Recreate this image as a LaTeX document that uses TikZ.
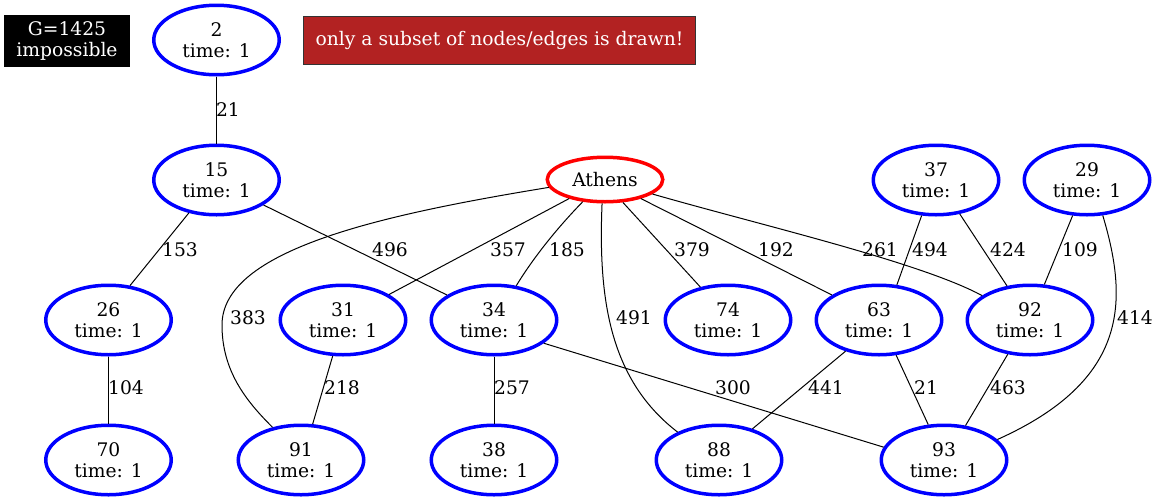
\documentclass[tikz,border=0pt]{standalone}
\usepackage{fontspec}
\setmainfont{DejaVu Serif}
\usetikzlibrary{shapes.geometric}
\definecolor{firebrick}{RGB}{178,34,34}
\begin{document}
\begin{tikzpicture}[x=1pt,y=-1pt,
  txt/.style={font=\fontsize{18.7}{20.5}\selectfont},
  city/.style={ellipse,draw=blue,line width=3.5pt,inner sep=0pt,minimum width=125.5pt,minimum height=69.5pt,align=center,txt},
  home/.style={ellipse,draw=red,line width=3.5pt,inner sep=0pt,minimum width=115.5pt,minimum height=44.5pt,txt},
  edge/.style={draw=black,line width=1pt},
  lbl/.style={txt,inner sep=0pt}]
\useasboundingbox (0,0) rectangle (1159,501);
% info boxes
\node[fill=black,text=white,minimum width=126pt,minimum height=52pt,inner sep=0pt,align=center,txt] (G) at (67,41) {G=1425\\impossible};
\node[fill=firebrick,draw=black!80,line width=1pt,text=white,minimum width=392pt,minimum height=48pt,inner sep=0pt,txt] (warn) at (499.5,40.5) {only a subset of nodes/edges is drawn!};
% nodes
\node[city] (n2) at (216.5,40) {2\\time: 1};
\node[city] (n15) at (216.5,180) {15\\time: 1};
\node[home] (A) at (605,179.5) {Athens};
\node[city] (n37) at (936,180) {37\\time: 1};
\node[city] (n29) at (1087,180) {29\\time: 1};
\node[city] (n26) at (108.5,320) {26\\time: 1};
\node[city] (n31) at (343,320) {31\\time: 1};
\node[city] (n34) at (494,320) {34\\time: 1};
\node[city] (n74) at (728,320) {74\\time: 1};
\node[city] (n63) at (879,320) {63\\time: 1};
\node[city] (n92) at (1030,320) {92\\time: 1};
\node[city] (n70) at (108.5,460) {70\\time: 1};
\node[city] (n91) at (301,460) {91\\time: 1};
\node[city] (n38) at (494,460) {38\\time: 1};
\node[city] (n88) at (719,460) {88\\time: 1};
\node[city] (n93) at (944,460) {93\\time: 1};
% edges
\draw[edge] (n2.south) -- (n15.north);
\draw[edge] (n15.-130) -- (n26.58);
\draw[edge] (n15.-28) -- (n34.152);
\draw[edge] (A.-152) -- (n31.29);
\draw[edge] (A.-135) .. controls (560,225) and (535,255) .. (n34.57);
\draw[edge] (A.-172) .. controls (380,215) and (222,250) .. (222,325) .. controls (222,370) and (245,400) .. (n91.131);
\draw[edge] (A.-97) .. controls (598,300) and (610,380) .. (n88.146);
\draw[edge] (A.-52) -- (n74.130);
\draw[edge] (A.-28) -- (n63.152);
\draw[edge] (A.-17) .. controls (760,225) and (920,262) .. (n92.153);
\draw[edge] (n37.-112) -- (n63.63);
\draw[edge] (n37.-55) -- (n92.124);
\draw[edge] (n29.-112) -- (n92.68);
\draw[edge] (n29.-66) .. controls (1128,300) and (1130,380) .. (n93.21);
\draw[edge] (n26.south) -- (n70.north);
\draw[edge] (n31.-106) -- (n91.72);
\draw[edge] (n34.south) -- (n38.north);
\draw[edge] (n34.-25) -- (n93.168);
\draw[edge] (n63.-137) -- (n88.43);
\draw[edge] (n63.-64) -- (n93.114);
\draw[edge] (n92.-123) -- (n93.58);
% labels
\node[lbl] (l1) at (228,110) {21};
\node[lbl] (l2) at (180,250) {153};
\node[lbl] (l3) at (390,250) {496};
\node[lbl] (l4) at (508,250) {357};
\node[lbl] (l5) at (567,250) {185};
\node[lbl] (l6) at (692,250) {379};
\node[lbl] (l7) at (776,250) {192};
\node[lbl] (l8) at (880,250) {261};
\node[lbl] (l9) at (930,250) {494};
\node[lbl] (l10) at (1008,250) {424};
\node[lbl] (l11) at (1080,250) {109};
\node[lbl] (l12) at (248,318) {383};
\node[lbl] (l13) at (634,318) {491};
\node[lbl] (l14) at (1135,318) {414};
\node[lbl] (l15) at (126,388) {104};
\node[lbl] (l16) at (342,388) {218};
\node[lbl] (l17) at (512,388) {257};
\node[lbl] (l18) at (733,388) {300};
\node[lbl] (l19) at (826,388) {441};
\node[lbl] (l20) at (926,388) {21};
\node[lbl] (l21) at (1008,388) {463};
\end{tikzpicture}
\end{document}
